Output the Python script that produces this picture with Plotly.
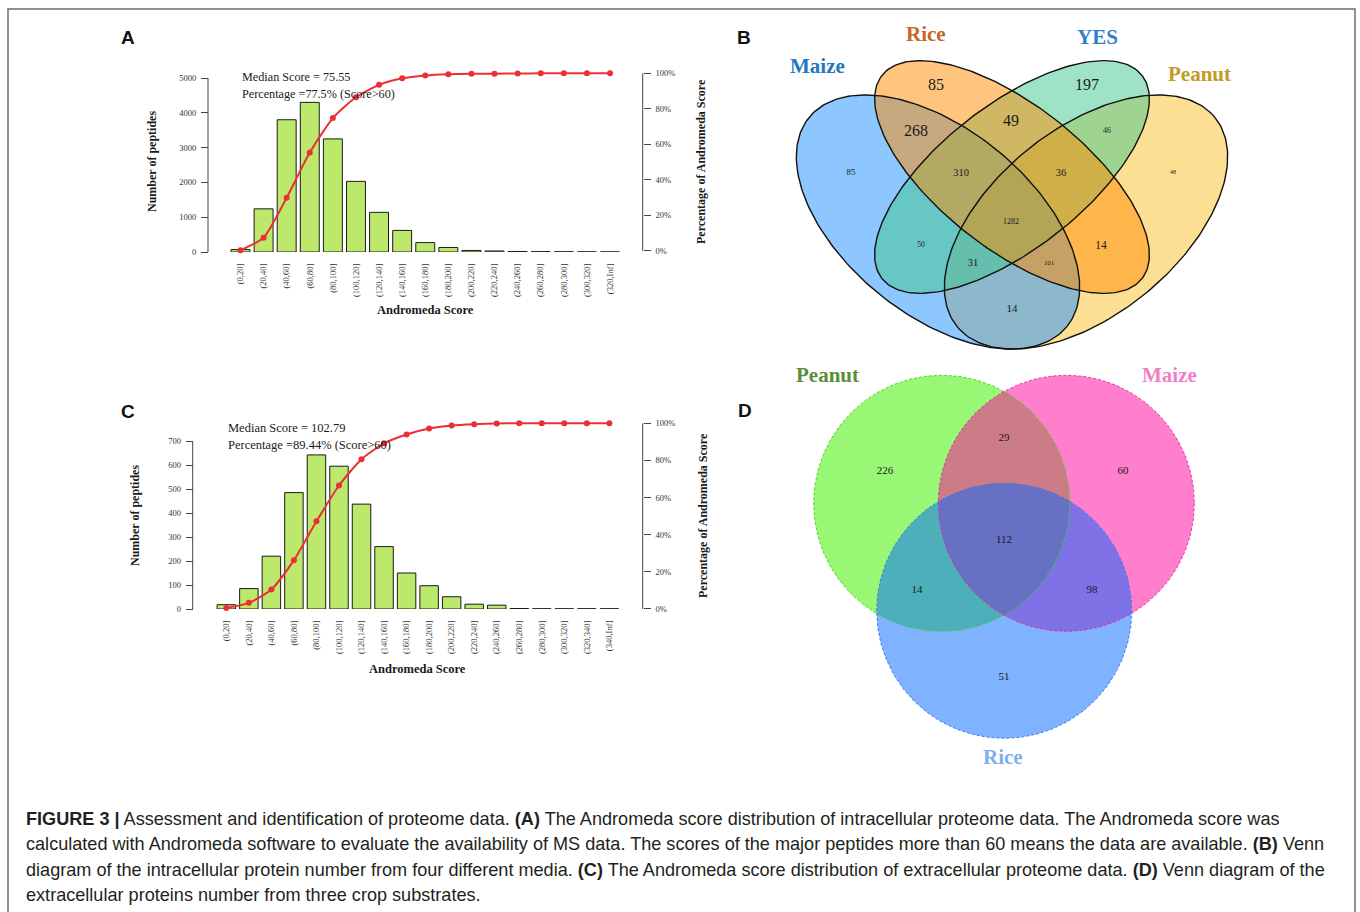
import numpy as np
import plotly.graph_objects as go

W, H = 1360, 912


def px(x):
    return x / W


def py(y):
    return 1 - y / H


SERIF = "Liberation Serif, Times New Roman, serif"
SANS = "Liberation Sans, Arial, sans-serif"

# ---------------- Panel A: intracellular Andromeda score distribution
a_bins = ["(0,20]", "(20,40]", "(40,60]", "(60,80]", "(80,100]", "(100,120]",
          "(120,140]", "(140,160]", "(160,180]", "(180,200]", "(200,220]",
          "(220,240]", "(240,260]", "(260,280]", "(280,300]", "(300,320]", "(320,Inf]"]
a_counts = [70, 1240, 3800, 4300, 3250, 2030, 1140, 620, 270, 130, 45, 30, 15, 10, 6, 4, 3]
a_cum_pct = [0.4, 7.5, 30.0, 55.4, 74.8, 86.5, 93.5, 97.2, 98.8, 99.5, 99.7, 99.8,
             99.9, 100, 100, 100, 100]
a_count_ticks = [0, 1000, 2000, 3000, 4000, 5000]
a_median = "75.55"
a_pct60 = "77.5%"

# ---------------- Panel C: extracellular Andromeda score distribution
c_bins = ["(0,20]", "(20,40]", "(40,60]", "(60,80]", "(80,100]", "(100,120]",
          "(120,140]", "(140,160]", "(160,180]", "(180,200]", "(200,220]",
          "(220,240]", "(240,260]", "(260,280]", "(280,300]", "(300,320]",
          "(320,340]", "(340,Inf]"]
c_counts = [18, 85, 220, 485, 642, 595, 437, 260, 150, 97, 51, 20, 16, 2, 1, 1, 1, 1]
c_cum_pct = [0.6, 3.3, 10.5, 26.3, 47.2, 66.5, 80.7, 89.2, 94.0, 97.2, 98.8, 99.5,
             99.9, 100, 100, 100, 100, 100]
c_count_ticks = [0, 100, 200, 300, 400, 500, 600, 700]
c_median = "102.79"
c_pct60 = "89.44%"

pct_ticks = [0, 0.2, 0.4, 0.6, 0.8, 1.0]
pct_labels = ["0%", "20%", "40%", "60%", "80%", "100%"]

# ---------------- Panel B: four-set Venn (intracellular proteins by medium)
b_sets = ["Maize", "Rice", "YES", "Peanut"]
b_set_colors = ["#2277bd", "#c4672b", "#2f80c6", "#c39a22"]
b_fill = ["rgba(30,144,255,0.5)", "rgba(255,140,0,0.5)",
          "rgba(63,199,141,0.5)", "rgba(251,191,41,0.5)"]
# region counts: Maize, Rice, YES, Peanut only; M&R; R&Y; Y&P; M&R&Y; R&Y&P;
# all four; M&Y; R&P; M&Y&P; M&R&P; M&P
b_counts = [85, 85, 197, 48, 268, 49, 46, 310, 36, 1282, 50, 14, 31, 101, 14]

# ---------------- Panel D: three-set Venn (extracellular proteins by substrate)
d_sets = ["Peanut", "Maize", "Rice"]
d_set_colors = ["#5a8e3a", "#f27ec8", "#7db0ee"]
d_fill = ["rgba(64,242,0,0.54)", "rgba(255,0,153,0.5)", "rgba(0,102,255,0.5)"]
d_line = ["#44cc22", "#e8239a", "#3377e6"]
# Peanut only, P&M, Maize only, all three, P&R, M&R, Rice only
d_counts = [226, 29, 60, 112, 14, 98, 51]

BAR_FILL = "#bce96c"
LINE_RED = "#ec2f37"

fig = go.Figure()

# ---- histogram bars and cumulative curves
fig.add_trace(go.Bar(x=a_bins, y=a_counts, xaxis="x", yaxis="y",
                     marker=dict(color=BAR_FILL, line=dict(color="#1a1a1a", width=1)),
                     showlegend=False))
fig.add_trace(go.Scatter(x=a_bins, y=[v / 100 for v in a_cum_pct], xaxis="x", yaxis="y2",
                         mode="lines+markers", cliponaxis=False,
                         line=dict(color=LINE_RED, width=2, shape="spline", smoothing=0.6),
                         marker=dict(color=LINE_RED, size=6), showlegend=False))
fig.add_trace(go.Bar(x=c_bins, y=c_counts, xaxis="x3", yaxis="y3",
                     marker=dict(color=BAR_FILL, line=dict(color="#1a1a1a", width=1)),
                     showlegend=False))
fig.add_trace(go.Scatter(x=c_bins, y=[v / 100 for v in c_cum_pct], xaxis="x3", yaxis="y4",
                         mode="lines+markers", cliponaxis=False,
                         line=dict(color=LINE_RED, width=2, shape="spline", smoothing=0.6),
                         marker=dict(color=LINE_RED, size=6), showlegend=False))


# ---- Venn geometry on a page-sized pixel axis
def ellipse(cx, cy, a, b, deg, n=240):
    t = np.linspace(0, 2 * np.pi, n)
    th = np.radians(deg)
    x = cx + a * np.cos(t) * np.cos(th) - b * np.sin(t) * np.sin(th)
    y = cy + a * np.cos(t) * np.sin(th) + b * np.sin(t) * np.cos(th)
    return x, y


# ellipse per set (Maize, Rice, YES, Peanut) and the stacking order of the fills
b_shapes = [(938, 222, 166, 93, 39), (1012, 177, 165, 72, 38),
            (1012, 177, 165, 72, -38), (1086, 222, 166, 93, -39)]
b_layer_order = [3, 0, 2, 1]
for k in b_layer_order:
    cx, cy, a, b, deg = b_shapes[k]
    ex, ey = ellipse(cx, cy, a, b, deg)
    fig.add_trace(go.Scatter(x=ex, y=ey, xaxis="x5", yaxis="y5", mode="lines",
                             fill="toself", fillcolor=b_fill[k], line=dict(width=0),
                             hoverinfo="skip", showlegend=False))
for (cx, cy, a, b, deg) in b_shapes:
    ex, ey = ellipse(cx, cy, a, b, deg)
    fig.add_trace(go.Scatter(x=ex, y=ey, xaxis="x5", yaxis="y5", mode="lines",
                             line=dict(color="#111111", width=1.4),
                             hoverinfo="skip", showlegend=False))

b_pos = [(851, 173), (936, 86), (1087, 86), (1173, 172), (916, 132), (1011, 122),
         (1107, 131), (961, 173), (1061, 173), (1011, 222), (921, 245), (1101, 246),
         (973, 263), (1049, 263), (1012, 309)]
b_size = [9, 16, 16, 6, 16, 16, 8, 10.5, 10.5, 8, 7.5, 11.5, 10.5, 7, 11]
for (x, y), s, v in zip(b_pos, b_size, b_counts):
    fig.add_trace(go.Scatter(x=[x], y=[y], xaxis="x5", yaxis="y5", mode="text",
                             text=[str(v)], textfont=dict(family=SERIF, size=s, color="#1a1a1a"),
                             hoverinfo="skip", showlegend=False))

d_circles = [(941.7, 503.3, 128), (1066.3, 503.3, 128), (1004.2, 610.8, 127.5)]
for (cx, cy, r), fc in zip(d_circles, d_fill):
    ex, ey = ellipse(cx, cy, r, r, 0)
    fig.add_trace(go.Scatter(x=ex, y=ey, xaxis="x5", yaxis="y5", mode="lines",
                             fill="toself", fillcolor=fc, line=dict(width=0),
                             hoverinfo="skip", showlegend=False))
for (cx, cy, r), lc in zip(d_circles, d_line):
    ex, ey = ellipse(cx, cy, r, r, 0)
    fig.add_trace(go.Scatter(x=ex, y=ey, xaxis="x5", yaxis="y5", mode="lines",
                             line=dict(color=lc, width=0.9, dash="3px,2px"),
                             hoverinfo="skip", showlegend=False))

d_pos = [(885, 471), (1004, 438), (1123, 471), (1004, 540), (917, 590), (1092, 590), (1004, 677)]
fig.add_trace(go.Scatter(x=[p[0] for p in d_pos], y=[p[1] for p in d_pos],
                         xaxis="x5", yaxis="y5", mode="text",
                         text=[str(v) for v in d_counts],
                         textfont=dict(family=SERIF, size=11, color="#1a1a1a"),
                         hoverinfo="skip", showlegend=False))

tickfont = dict(family=SERIF, size=8.5, color="#333333")
common_y = dict(showgrid=False, zeroline=False, showline=False, ticks="outside",
                ticklen=7, tickwidth=1, tickcolor="#444444", tickfont=tickfont,
                anchor="free", automargin=False, ticklabelstandoff=3)
common_x = dict(type="category", showgrid=False, zeroline=False, showline=False,
                ticks="", tickangle=-90, automargin=False, ticklabelstandoff=9,
                tickfont=dict(family=SERIF, size=8.5, color="#333333"))

fig.update_layout(
    width=W, height=H, margin=dict(l=0, r=0, t=0, b=0, pad=0, autoexpand=False),
    paper_bgcolor="white", plot_bgcolor="rgba(0,0,0,0)",
    bargap=0.18, showlegend=False,
    xaxis=dict(domain=[px(217.4), px(633.1)], range=[-1, 17], anchor="y", **common_x),
    yaxis=dict(domain=[py(252), py(78)], range=[0, 5000], position=px(208),
               tickvals=a_count_ticks, **common_y),
    yaxis2=dict(domain=[py(251), py(251 - 1.03 * 177.7)], range=[0, 1.03],
                position=px(642.7), side="right", tickvals=pct_ticks,
                ticktext=pct_labels, **common_y),
    xaxis3=dict(domain=[px(203.8), px(631.9)], range=[-1, 18], anchor="y3", **common_x),
    yaxis3=dict(domain=[py(609), py(441)], range=[0, 700], position=px(192.7),
                tickvals=c_count_ticks, **common_y),
    yaxis4=dict(domain=[py(609), py(609 - 1.03 * 185.7)], range=[0, 1.03],
                position=px(642.7), side="right", tickvals=pct_ticks,
                ticktext=pct_labels, **common_y),
    xaxis5=dict(domain=[0, 1], range=[0, W], anchor="y5", visible=False, automargin=False),
    yaxis5=dict(domain=[0, 1], range=[H, 0], anchor="x5", visible=False, automargin=False),
)

shapes = []
# R-style axis lines running from first to last tick
for xpos, yref, y0, y1 in [(208, "y", 0, 5000), (642.7, "y2", 0, 1),
                           (192.7, "y3", 0, 700), (642.7, "y4", 0, 1)]:
    shapes.append(dict(type="line", xref="paper", yref=yref, x0=px(xpos), x1=px(xpos),
                       y0=y0, y1=y1, line=dict(color="#444444", width=1)))
# figure frame
shapes.append(dict(type="rect", xref="paper", yref="paper", x0=px(8), x1=px(1355),
                   y0=-0.05, y1=py(9), line=dict(color="#6e6e6e", width=1.5),
                   fillcolor="rgba(0,0,0,0)", layer="below"))
fig.update_layout(shapes=shapes)

ann = []


def note(x, y, text, size, family=SERIF, color="#1a1a1a", xanchor="center",
         yanchor="middle", angle=0):
    ann.append(dict(x=px(x), y=py(y), xref="paper", yref="paper", text=text,
                    showarrow=False, xanchor=xanchor, yanchor=yanchor, textangle=angle,
                    font=dict(family=family, size=size, color=color)))


# panel letters
for lab, x, y in [("A", 128, 38), ("B", 744, 38), ("C", 128, 412), ("D", 745, 411)]:
    note(x, y, "<b>%s</b>" % lab, 19, family=SANS, color="#111111")

# panel A texts
note(240, 77, "Median Score = " + a_median, 12.2, xanchor="left")
note(240, 94, "Percentage =" + a_pct60 + " (Score>60)", 12.2, xanchor="left")
note(152, 162, "<b>Number of peptides</b>", 12, angle=-90)
note(701, 161, "<b>Percentage of Andromeda Score</b>", 12, angle=-90)
note(425, 310, "<b>Andromeda Score</b>", 12.5)

# panel C texts
note(226, 428, "Median Score = " + c_median, 12.5, xanchor="left")
note(226, 445, "Percentage =" + c_pct60 + " (Score>60)", 12.5, xanchor="left")
note(135, 516, "<b>Number of peptides</b>", 12, angle=-90)
note(703, 516, "<b>Percentage of Andromeda Score</b>", 12, angle=-90)
note(417, 669, "<b>Andromeda Score</b>", 12.5)

# Venn set names
for name, col, (x, y) in zip(b_sets, b_set_colors, [(817, 66), (926, 34), (1097, 37), (1199, 74)]):
    note(x, y, "<b>%s</b>" % name, 21, color=col)
for name, col, (x, y) in zip(d_sets, d_set_colors, [(828, 375), (1169, 375), (1003, 757)]):
    note(x, y, "<b>%s</b>" % name, 21, color=col)

# caption
cap = [
    "<b>FIGURE 3 |</b> Assessment and identification of proteome data. <b>(A)</b> The Andromeda score distribution of intracellular proteome data. The Andromeda score was",
    "calculated with Andromeda software to evaluate the availability of MS data. The scores of the major peptides more than 60 means the data are available. <b>(B)</b> Venn",
    "diagram of the intracellular protein number from four different media. <b>(C)</b> The Andromeda score distribution of extracellular proteome data. <b>(D)</b> Venn diagram of the",
    "extracellular proteins number from three crop substrates.",
]
for i, line in enumerate(cap):
    note(24, 819 + 25.4 * i, line, 18.1, family=SANS, color="#231f20", xanchor="left")

fig.update_layout(annotations=ann)
fig.write_html("out.html")
